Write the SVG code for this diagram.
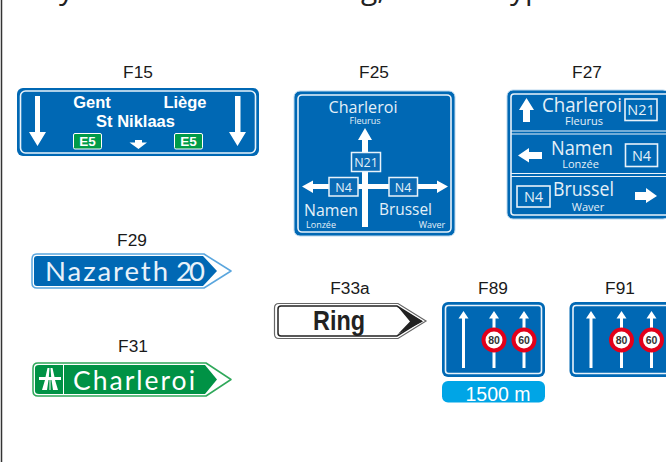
<svg xmlns="http://www.w3.org/2000/svg" width="666" height="462" viewBox="0 0 666 462">
<style>
text{font-family:"Liberation Sans",Arial,sans-serif}
.cap{font-size:17.300px;fill:#1a1a1a;text-anchor:middle}
.o{font-family:"Open Sans","Noto Sans",sans-serif;fill:#e4f0f8}
.l{font-family:Lato,"Open Sans",sans-serif;fill:#e8f2fa}
.m{text-anchor:middle}
.b{font-weight:bold;fill:#fff;font-size:16.500px}
.wl{fill:none;stroke:#e8f2fa;stroke-width:1.600}
.a{fill:#fff;stroke:none}
.box{fill:#0a6ab4;stroke:#e8f2fa;stroke-width:1.500}
.sh{fill:#0068b4;stroke:none}
.ro{fill:#fff;stroke:#e2001a;stroke-width:4}
.n{font-size:10.500px;font-weight:bold;fill:#333;text-anchor:middle}
.e{fill:#009b48;stroke:#fff}
.t{font-size:13.500px;font-weight:bold;fill:#fff;text-anchor:middle}
</style>
<defs>
<g id="lanes">
<rect width="103" height="75" rx="6" class="sh"/>
<rect x="3.500" y="3.500" width="96" height="68" rx="3" class="wl"/>
<path class="a" d="M20 66V16.500H16.500L21.500 9L26.500 16.500H23V66Z"/>
<path class="a" d="M50.500 66V16.500H47L52 9L57 16.500H53.500V66Z"/>
<path class="a" d="M80.500 66V16.500H77L82 9L87 16.500H83.500V66Z"/>
<circle cx="52" cy="38" r="10.500" class="ro"/>
<circle cx="82" cy="38" r="10.500" class="ro"/>
<text x="52" y="42" class="n">80</text>
<text x="82" y="42" class="n">60</text>
</g>
</defs>
<rect width="666" height="462" fill="#fff"/>
<g id="frame"><path d="M1.500 0V462" stroke="#333" stroke-width="1.500" fill="none"/></g>
<g id="title-clip"><text x="59" y="-1" font-size="30" style="fill:#222;font-family:'Open Sans'">y</text><text x="361" y="-1" font-size="30" style="fill:#222;font-family:'Open Sans'">g,</text><text x="510" y="-1" font-size="30" style="fill:#222;font-family:'Open Sans'">yp</text></g>

<g id="F15">
<text x="138" y="77.500" class="cap">F15</text>
<rect x="17" y="88" width="242" height="68" rx="6" class="sh"/>
<rect x="20.500" y="91" width="235" height="62" rx="5" class="wl"/>
<path class="a" d="M35 96H40V132H46L37.500 146L29 132H35Z"/>
<path class="a" d="M235 96H240.500V132H246L237.500 146L229 132H235Z"/>
<text x="92" y="108" class="b m">Gent</text><text x="185" y="108" class="b m">Liège</text><text x="135.500" y="126.500" class="b m">St Niklaas</text>
<rect x="73.500" y="133.500" width="28" height="15.500" rx="1.500" class="e"/><text x="87.500" y="146" class="t">E5</text>
<rect x="174.500" y="133.500" width="28" height="15.500" rx="1.500" class="e"/><text x="188.500" y="146" class="t">E5</text>
<path class="a" d="M135 140H142V142.500H147L138.500 149L129.500 142.500H135Z"/>
</g>

<g id="F25">
<text x="374" y="77.500" class="cap">F25</text>
<rect x="294" y="91" width="161" height="145" rx="6" fill="#0068b4" stroke="#bcd8ee"/>
<rect x="298" y="95" width="153" height="137" rx="4" class="wl"/>
<path class="a" d="M362 227V140H358L365 128L372 140H368V227Z"/>
<path class="a" d="M302 186.500L313 180.500V184H437V180.500L448 186.500L437 193V189H313V193Z"/>
<rect x="351.500" y="152.500" width="29" height="19" class="box"/>
<rect x="329" y="177.500" width="29" height="18.500" class="box"/>
<rect x="389" y="177.500" width="28.500" height="18.500" class="box"/>
<text x="363" y="113" class="o m" font-size="17" textLength="69" lengthAdjust="spacingAndGlyphs">Charleroi</text>
<text x="365" y="124" class="o m" font-size="9">Fleurus</text>
<text x="331" y="216" class="o m" font-size="17" textLength="54" lengthAdjust="spacingAndGlyphs">Namen</text>
<text x="405.500" y="215" class="o m" font-size="17" textLength="53" lengthAdjust="spacingAndGlyphs">Brussel</text>
<text x="321" y="228" class="o m" font-size="9">Lonzée</text>
<text x="432" y="228" class="o m" font-size="9">Waver</text>
<text x="366" y="167" class="o m" font-size="12.500">N21</text>
<text x="343.500" y="191.500" class="o m" font-size="12.500">N4</text>
<text x="403" y="191.500" class="o m" font-size="12.500">N4</text>
</g>

<g id="F27">
<text x="587" y="77.500" class="cap">F27</text>
<rect x="507" y="90" width="162" height="129" rx="6" fill="#0068b4" stroke="#bcd8ee"/>
<path class="wl" d="M511 131H666M511 134H666M511 173.500H666M511 176.500H666" style="stroke-width:1.100"/>
<rect x="511" y="94" width="160" height="121" rx="3" class="wl"/>
<path class="a" d="M523 122V110H519L526.500 98L534 110H530V122Z"/>
<path class="a" d="M518 155.500L529 148V152H542V159H529V162.500Z"/>
<path class="a" d="M635 192H646V188L657 196L646 203V200H635Z"/>
<rect x="625" y="99" width="32" height="21.500" class="wl"/>
<rect x="625.500" y="144" width="32" height="22.500" class="wl"/>
<rect x="517" y="186" width="33" height="21" class="wl"/>
<text x="582" y="112" class="o m" font-size="20" textLength="80" lengthAdjust="spacingAndGlyphs">Charleroi</text>
<text x="584" y="125" class="o m" font-size="11">Fleurus</text>
<text x="582" y="155" class="o m" font-size="20" textLength="62" lengthAdjust="spacingAndGlyphs">Namen</text>
<text x="580.500" y="168" class="o m" font-size="11">Lonzée</text>
<text x="583.500" y="196" class="o m" font-size="20" textLength="61" lengthAdjust="spacingAndGlyphs">Brussel</text>
<text x="588" y="211" class="o m" font-size="11">Waver</text>
<text x="641" y="115" class="o m" font-size="14.500">N21</text>
<text x="641.500" y="161" class="o m" font-size="14.500">N4</text>
<text x="533.500" y="202" class="o m" font-size="14.500">N4</text>
</g>

<g id="F29">
<text x="132" y="245.500" class="cap">F29</text>
<path d="M37 254H204L231 271L204 288H37Q32 288 32 283V259Q32 254 37 254Z" fill="#fff" stroke="#5aa6de" stroke-width="1.500" stroke-linejoin="round"/>
<path d="M37 256H203L217 271L203 286H37Q34 286 34 283V259Q34 256 37 256Z" fill="#0068b4"/>
<text x="45" y="281" class="l" font-size="27.500" textLength="123">Nazareth</text>
<text x="176" y="281" class="l" font-size="27.500" textLength="29">20</text>
</g>

<g id="F31">
<text x="133" y="351.500" class="cap">F31</text>
<path d="M38 363H206L231 379.500L206 396H38Q33 396 33 391V368Q33 363 38 363Z" fill="#fff" stroke="#2fa85a" stroke-width="1.500" stroke-linejoin="round"/>
<path d="M39 365H205L217 379.500L205 394H39Q35 394 35 391V368Q35 365 39 365Z" fill="#009245"/>
<path d="M63.500 365V394" stroke="#fff" stroke-width="1"/>
<path class="a" d="M47.500 368H49.500L48.800 377H45.500ZM50.500 368H52.500L54.500 377H51.200ZM39 377H61V380H39ZM45 380H48.500L47 390H42ZM51.500 380H55L58 390H53ZM49.500 380H50.500V390H49.500Z"/>
<text x="73" y="390" class="l" style="fill:#fff" font-size="26.500" textLength="122">Charleroi</text>
</g>

<g id="F33a">
<text x="350" y="293.500" class="cap">F33a</text>
<path d="M279 303.500H398L426 321L398 338.500H279Q274.500 338.500 274.500 334V308Q274.500 303.500 279 303.500Z" fill="#fff" stroke="#666" stroke-width="1.200"/>
<path d="M281 306H397L421 321L397 336H281Q278 336 278 333V309Q278 306 281 306Z" fill="#fff" stroke="#222" stroke-width="1.500"/>
<path d="M398 307L423 321.500L398 334L410 321.500Z" fill="#222"/>
<text x="339" y="330" class="m" font-size="28" font-weight="bold" fill="#222" textLength="52" lengthAdjust="spacingAndGlyphs">Ring</text>
</g>

<g id="F89">
<text x="493" y="293.500" class="cap">F89</text>
<use href="#lanes" x="442" y="302"/>
<rect x="442" y="381" width="103" height="21.500" rx="6" fill="#00a5e6"/>
<text x="498" y="401" class="m" font-size="19.500" fill="#fff">1500 m</text>
</g>

<g id="F91">
<text x="620" y="293.500" class="cap">F91</text>
<use href="#lanes" x="569.500" y="302"/>
</g>
<g id="connectors"></g>
</svg>
